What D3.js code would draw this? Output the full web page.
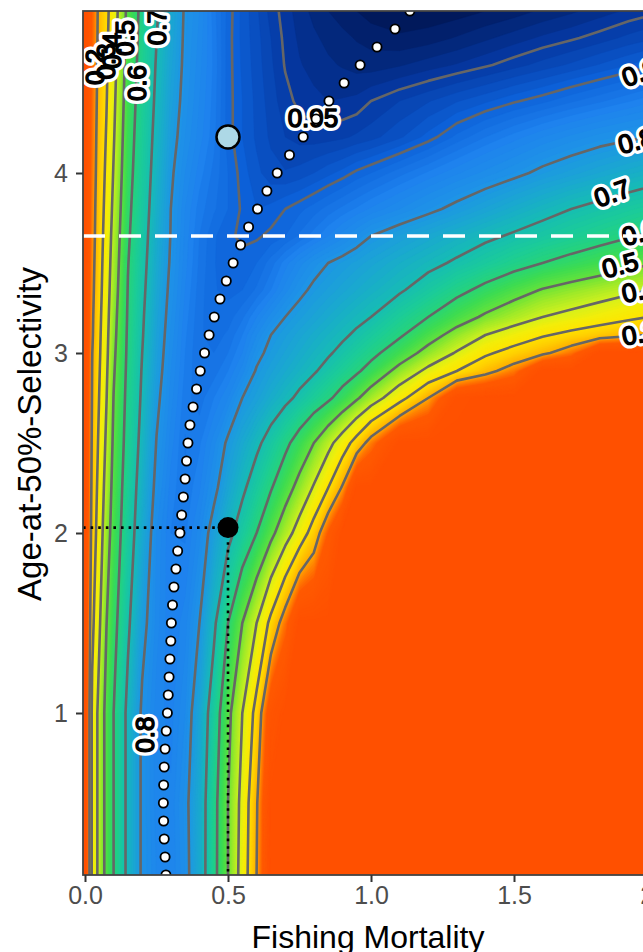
<!DOCTYPE html>
<html>
<head>
<meta charset="utf-8">
<script src="https://cdn.jsdelivr.net/npm/d3@7"></script>
<style>
  body { margin: 0; background: #fff; }
  svg { display: block; font-family: "Liberation Sans", Arial, sans-serif; }
</style>
</head>
<body>
<svg id="chart" width="643" height="952"></svg>
<script>
// grid columns (fishing mortality) and rows (age at 50% selectivity)
const fishingMortality = [0, 0.025, 0.05, 0.075, 0.1, 0.15, 0.2, 0.25, 0.3, 0.35, 0.4, 0.45, 0.5, 0.55, 0.6, 0.65,
  0.7, 0.75, 0.8, 0.85, 0.9, 0.95, 1.0, 1.1, 1.2, 1.3, 1.4, 1.5, 1.6, 1.7, 1.8, 1.9, 2.0];
const selectivityAge = [0.1, 0.5, 1.0, 1.5, 2.0, 2.25, 2.5, 2.75, 2.9, 3.0, 3.1, 3.2, 3.35, 3.5, 3.65, 3.8,
  4.0, 4.2, 4.4, 4.6, 4.75, 4.9];

// relative yield, one row per age (bottom to top), one value per fishing mortality
const relativeYield = [
  [0, .32, .43, .53, .60, .72, .81, .84, .85, .82, .75, .63, .50, .36, .20, 0, 0, 0, 0, 0, 0, 0, 0, 0, 0, 0, 0, 0, 0, 0, 0, 0, 0],
  [0, .32, .43, .53, .60, .72, .81, .845, .848, .815, .75, .633, .50, .37, .21, 0, 0, 0, 0, 0, 0, 0, 0, 0, 0, 0, 0, 0, 0, 0, 0, 0, 0],
  [0, .32, .43, .53, .60, .72, .81, .845, .854, .83, .764, .657, .525, .40, .267, .06, 0, 0, 0, 0, 0, 0, 0, 0, 0, 0, 0, 0, 0, 0, 0, 0, 0],
  [0, .277, .387, .498, .571, .687, .783, .835, .858, .845, .80, .717, .60, .50, .40, .275, .15, 0, 0, 0, 0, 0, 0, 0, 0, 0, 0, 0, 0, 0, 0, 0, 0],
  [0, .239, .352, .456, .542, .658, .751, .83, .86, .862, .835, .778, .722, .662, .60, .523, .442, .358, .256, .12, 0, 0, 0, 0, 0, 0, 0, 0, 0, 0, 0, 0, 0],
  [0, .225, .336, .436, .529, .647, .737, .815, .855, .868, .852, .815, .762, .714, .661, .606, .54, .469, .391, .30, .19, 0, 0, 0, 0, 0, 0, 0, 0, 0, 0, 0, 0],
  [0, .215, .319, .416, .515, .635, .723, .802, .845, .871, .862, .835, .792, .754, .715, .67, .62, .562, .50, .429, .35, .26, .16, 0, 0, 0, 0, 0, 0, 0, 0, 0, 0],
  [0, .206, .303, .397, .502, .625, .711, .789, .835, .866, .875, .86, .84, .80, .775, .745, .717, .686, .65, .614, .567, .511, .45, .333, .20, .02, 0, 0, 0, 0, 0, 0, 0],
  [0, .201, .294, .387, .491, .619, .705, .78, .83, .862, .878, .875, .86, .835, .796, .773, .751, .729, .707, .677, .645, .612, .569, .47, .377, .30, .229, .156, 0, 0, 0, 0, 0],
  [0, .198, .288, .38, .483, .615, .70, .775, .826, .86, .879, .88, .87, .85, .812, .788, .768, .748, .728, .708, .682, .653, .624, .55, .469, .392, .315, .264, .218, .15, 0, 0, 0],
  [0, .19, .283, .374, .475, .612, .695, .77, .822, .858, .878, .885, .878, .86, .83, .80, .782, .764, .746, .729, .711, .689, .663, .611, .538, .467, .40, .355, .309, .276, .245, .215, .185],
  [0, .186, .278, .367, .468, .608, .691, .765, .818, .855, .877, .887, .885, .872, .85, .825, .80, .783, .767, .75, .733, .717, .70, .65, .60, .541, .487, .443, .40, .373, .346, .319, .292],
  [0, .178, .27, .357, .455, .603, .684, .757, .812, .85, .875, .889, .893, .89, .878, .86, .835, .81, .792, .778, .764, .75, .736, .708, .668, .623, .578, .535, .495, .469, .444, .418, .392],
  [0, .171, .264, .348, .444, .597, .677, .75, .806, .846, .872, .889, .897, .897, .89, .875, .855, .835, .815, .80, .788, .776, .764, .74, .717, .691, .661, .63, .60, .575, .55, .525, .50],
  [0, .164, .258, .339, .433, .589, .67, .744, .802, .843, .87, .888, .898, .902, .902, .897, .89, .878, .865, .85, .835, .818, .80, .778, .757, .735, .713, .692, .671, .649, .628, .606, .585],
  [0, .159, .253, .329, .421, .581, .664, .737, .80, .84, .865, .878, .89, .902, .91, .907, .90, .893, .885, .876, .867, .858, .848, .83, .81, .789, .767, .744, .722, .70, .682, .664, .646],
  [0, .151, .246, .317, .406, .57, .657, .728, .793, .83, .855, .873, .89, .905, .917, .926, .929, .926, .92, .913, .906, .897, .89, .874, .858, .842, .826, .81, .791, .775, .759, .743, .727],
  [0, .145, .24, .306, .392, .56, .65, .72, .783, .82, .845, .866, .895, .91, .922, .932, .94, .944, .945, .944, .942, .938, .934, .922, .906, .887, .87, .855, .84, .827, .815, .806, .798],
  [0, .138, .234, .296, .38, .55, .643, .712, .774, .814, .84, .864, .895, .91, .923, .935, .946, .953, .957, .96, .959, .957, .95, .94, .931, .921, .912, .902, .893, .882, .872, .861, .85],
  [0, .13, .229, .288, .368, .54, .636, .705, .765, .81, .836, .862, .895, .912, .925, .938, .951, .959, .964, .968, .971, .974, .975, .971, .965, .959, .952, .944, .936, .928, .919, .91, .90],
  [0, .128, .225, .283, .359, .532, .631, .699, .759, .808, .833, .863, .895, .913, .926, .94, .953, .962, .968, .973, .977, .981, .984, .988, .985, .979, .972, .965, .958, .952, .945, .937, .93],
  [0, .125, .222, .278, .35, .525, .627, .693, .753, .806, .83, .865, .894, .913, .928, .944, .955, .965, .973, .98, .985, .99, .995, .999, .998, .995, .99, .985, .978, .972, .965, .958, .952]
];

const contourLevels = [0.2, 0.3, 0.4, 0.5, 0.6, 0.7, 0.8, 0.9, 0.95];

// F giving the highest yield at each age (white dots)
const fmaxAge = [0.1, 0.2, 0.3, 0.4, 0.5, 0.6, 0.7, 0.8, 0.9, 1.0, 1.1, 1.2, 1.3, 1.4, 1.5, 1.6, 1.7, 1.8, 1.9, 2.0,
  2.1, 2.2, 2.3, 2.4, 2.5, 2.6, 2.7, 2.8, 2.9, 3.0, 3.1, 3.2, 3.3, 3.4, 3.5, 3.6, 3.7, 3.8, 3.9, 4.0,
  4.1, 4.2, 4.3, 4.4, 4.5, 4.6, 4.7, 4.8, 4.9];
const fmaxF = [0.283, 0.280, 0.277, 0.275, 0.274, 0.275, 0.277, 0.280, 0.284, 0.288, 0.291, 0.294, 0.297, 0.300, 0.302,
  0.306, 0.311, 0.318, 0.324, 0.332, 0.338, 0.344, 0.350, 0.355, 0.360, 0.367, 0.378, 0.390, 0.403, 0.418,
  0.434, 0.452, 0.472, 0.494, 0.518, 0.544, 0.572, 0.603, 0.636, 0.672, 0.715, 0.763, 0.808, 0.853, 0.906,
  0.962, 1.021, 1.084, 1.136];

const currentF = 0.5, currentAge = 2.03;
const altF = 0.5, altAge = 4.2;
const maturityAge = 3.65;

const xTicks = [0, 0.5, 1, 1.5, 2];
const yTicks = [1, 2, 3, 4];

// where each contour label sits (data units) and its tilt
const labelSpots = [
  {text: "0.3", f: 0.072, a: 4.62, angle: -90},
  {text: "0.4", f: 0.094, a: 4.68, angle: -90},
  {text: "0.2", f: 0.035, a: 4.59, angle: -90},
  {text: "0.5", f: 0.14, a: 4.75, angle: -90},
  {text: "0.6", f: 0.182, a: 4.5, angle: -90},
  {text: "0.7", f: 0.252, a: 4.81, angle: -90},
  {text: "0.8", f: 0.21, a: 0.88, angle: -90},
  {text: "0.95", f: 0.797, a: 4.31, angle: 0},
  {text: "0.9", f: 1.94, a: 4.56, angle: -20},
  {text: "0.8", f: 1.927, a: 4.18, angle: -15},
  {text: "0.7", f: 1.843, a: 3.89, angle: -20},
  {text: "0.6", f: 1.94, a: 3.67, angle: -15},
  {text: "0.5", f: 1.871, a: 3.49, angle: -15},
  {text: "0.4", f: 1.94, a: 3.35, angle: -12},
  {text: "0.3", f: 1.94, a: 3.11, angle: -10}
];

const panel = {left: 83, top: 11, right: 659, bottom: 875};
const x = d3.scaleLinear().domain([0, 2]).range([85, 657]);
const y = d3.scaleLinear().domain([0, 4.9]).range([893, 11]);

const color = d3.scaleLinear()
  .domain([0, 0.12, 0.16, 0.2, 0.25, 0.3, 0.35, 0.4, 0.45, 0.5, 0.55, 0.6, 0.65, 0.7, 0.75, 0.8, 0.85, 0.9, 0.95, 1.0])
  .range(["#ff5000", "#ff5a00", "#ff8000", "#ffae00", "#ffcc00", "#ffe400", "#f2ee0a", "#d0f01e", "#a0ea28",
    "#64e23a", "#3cdc52", "#26d47a", "#1bcb9a", "#16bcb4", "#1aa8d0", "#1e94e6", "#1e82ee", "#0c60d8",
    "#05369e", "#00124a"])
  .clamp(true);

const svg = d3.select("#chart");

svg.append("defs").append("clipPath").attr("id", "panel-clip")
  .append("rect")
  .attr("x", panel.left).attr("y", panel.top)
  .attr("width", panel.right - panel.left).attr("height", panel.bottom - panel.top);

const nF = fishingMortality.length, nA = selectivityAge.length;
const values = relativeYield.flat();
const colToF = d3.scaleLinear().domain(d3.range(nF)).range(fishingMortality);
const rowToA = d3.scaleLinear().domain(d3.range(nA)).range(selectivityAge);

const gridToScreen = d3.geoTransform({
  point(gx, gy) {
    this.stream.point(x(colToF(gx - 0.5)), y(rowToA(gy - 0.5)));
  }
});
const path = d3.geoPath(gridToScreen);

const plot = svg.append("g").attr("clip-path", "url(#panel-clip)");

plot.append("rect")
  .attr("x", panel.left).attr("y", panel.top)
  .attr("width", panel.right - panel.left).attr("height", panel.bottom - panel.top)
  .attr("fill", color(0));

const bandSteps = d3.range(1, 101).map(i => i / 100);
const bands = d3.contours().size([nF, nA]).thresholds(bandSteps)(values);

plot.append("g")
  .selectAll("path")
  .data(bands)
  .join("path")
  .attr("d", path)
  .attr("fill", d => color(d.value))
  .attr("stroke", d => color(d.value))
  .attr("stroke-width", 0.4);

const lines = d3.contours().size([nF, nA]).thresholds(contourLevels)(values);

plot.append("g")
  .selectAll("path")
  .data(lines)
  .join("path")
  .attr("d", path)
  .attr("fill", "none")
  .attr("stroke", "#666")
  .attr("stroke-width", 2.6)
  .attr("stroke-linejoin", "round");

// labels on the contours: a white halo, then the black text
const labels = plot.append("g")
  .attr("font-size", 26)
  .attr("text-anchor", "middle");

labels.selectAll("text.halo")
  .data(labelSpots)
  .join("text")
  .attr("class", "halo")
  .attr("transform", d => `translate(${x(d.f)},${y(d.a)}) rotate(${d.angle})`)
  .attr("dy", "0.36em")
  .attr("fill", "#fff")
  .attr("stroke", "#fff")
  .attr("stroke-width", 8)
  .attr("stroke-linejoin", "round")
  .text(d => d.text);

labels.selectAll("text.ink")
  .data(labelSpots)
  .join("text")
  .attr("class", "ink")
  .attr("transform", d => `translate(${x(d.f)},${y(d.a)}) rotate(${d.angle})`)
  .attr("dy", "0.36em")
  .attr("fill", "#000")
  .attr("stroke", "#000")
  .attr("stroke-width", 1.5)
  .attr("stroke-linejoin", "round")
  .text(d => d.text);

// age at maturity
plot.append("line")
  .attr("x1", panel.left).attr("x2", panel.right)
  .attr("y1", y(maturityAge)).attr("y2", y(maturityAge))
  .attr("stroke", "#fff")
  .attr("stroke-width", 3.5)
  .attr("stroke-dasharray", "22,14");

// guides to the current state
plot.append("path")
  .attr("d", `M${panel.left},${y(currentAge)}H${x(currentF)}V${panel.bottom}`)
  .attr("fill", "none")
  .attr("stroke", "#000")
  .attr("stroke-width", 2.6)
  .attr("stroke-dasharray", "2.6,5");

plot.append("g")
  .selectAll("circle")
  .data(fmaxAge)
  .join("circle")
  .attr("cx", (d, i) => x(fmaxF[i]))
  .attr("cy", d => y(d))
  .attr("r", 4.6)
  .attr("fill", "#fff")
  .attr("stroke", "#000")
  .attr("stroke-width", 1.8);

plot.append("circle")
  .attr("cx", x(altF)).attr("cy", y(altAge))
  .attr("r", 11.5)
  .attr("fill", "#add8e6")
  .attr("stroke", "#000")
  .attr("stroke-width", 2.5);

plot.append("circle")
  .attr("cx", x(currentF)).attr("cy", y(currentAge))
  .attr("r", 10.5)
  .attr("fill", "#000");

svg.append("rect")
  .attr("x", panel.left).attr("y", panel.top)
  .attr("width", panel.right - panel.left).attr("height", panel.bottom - panel.top)
  .attr("fill", "none")
  .attr("stroke", "#444")
  .attr("stroke-width", 1.8);

const xAxis = svg.append("g")
  .attr("transform", `translate(0,${panel.bottom})`)
  .call(d3.axisBottom(x).tickValues(xTicks).tickFormat(d3.format(".1f")).tickSize(7).tickPadding(4));

const yAxis = svg.append("g")
  .attr("transform", `translate(${panel.left},0)`)
  .call(d3.axisLeft(y).tickValues(yTicks).tickFormat(d3.format("d")).tickSize(7).tickPadding(8));

[xAxis, yAxis].forEach(g => {
  g.select(".domain").remove();
  g.selectAll(".tick line").attr("stroke", "#333").attr("stroke-width", 2);
  g.selectAll(".tick text")
    .attr("fill", "#4d4d4d")
    .attr("font-size", 25)
    .attr("font-family", "Liberation Sans, Arial, sans-serif");
});

svg.append("text")
  .attr("x", 368).attr("y", 948)
  .attr("text-anchor", "middle")
  .attr("font-size", 32)
  .attr("fill", "#000")
  .text("Fishing Mortality");

svg.append("text")
  .attr("transform", "translate(41,434) rotate(-90)")
  .attr("text-anchor", "middle")
  .attr("font-size", 33)
  .attr("fill", "#000")
  .text("Age-at-50%-Selectivity");
</script>
</body>
</html>
